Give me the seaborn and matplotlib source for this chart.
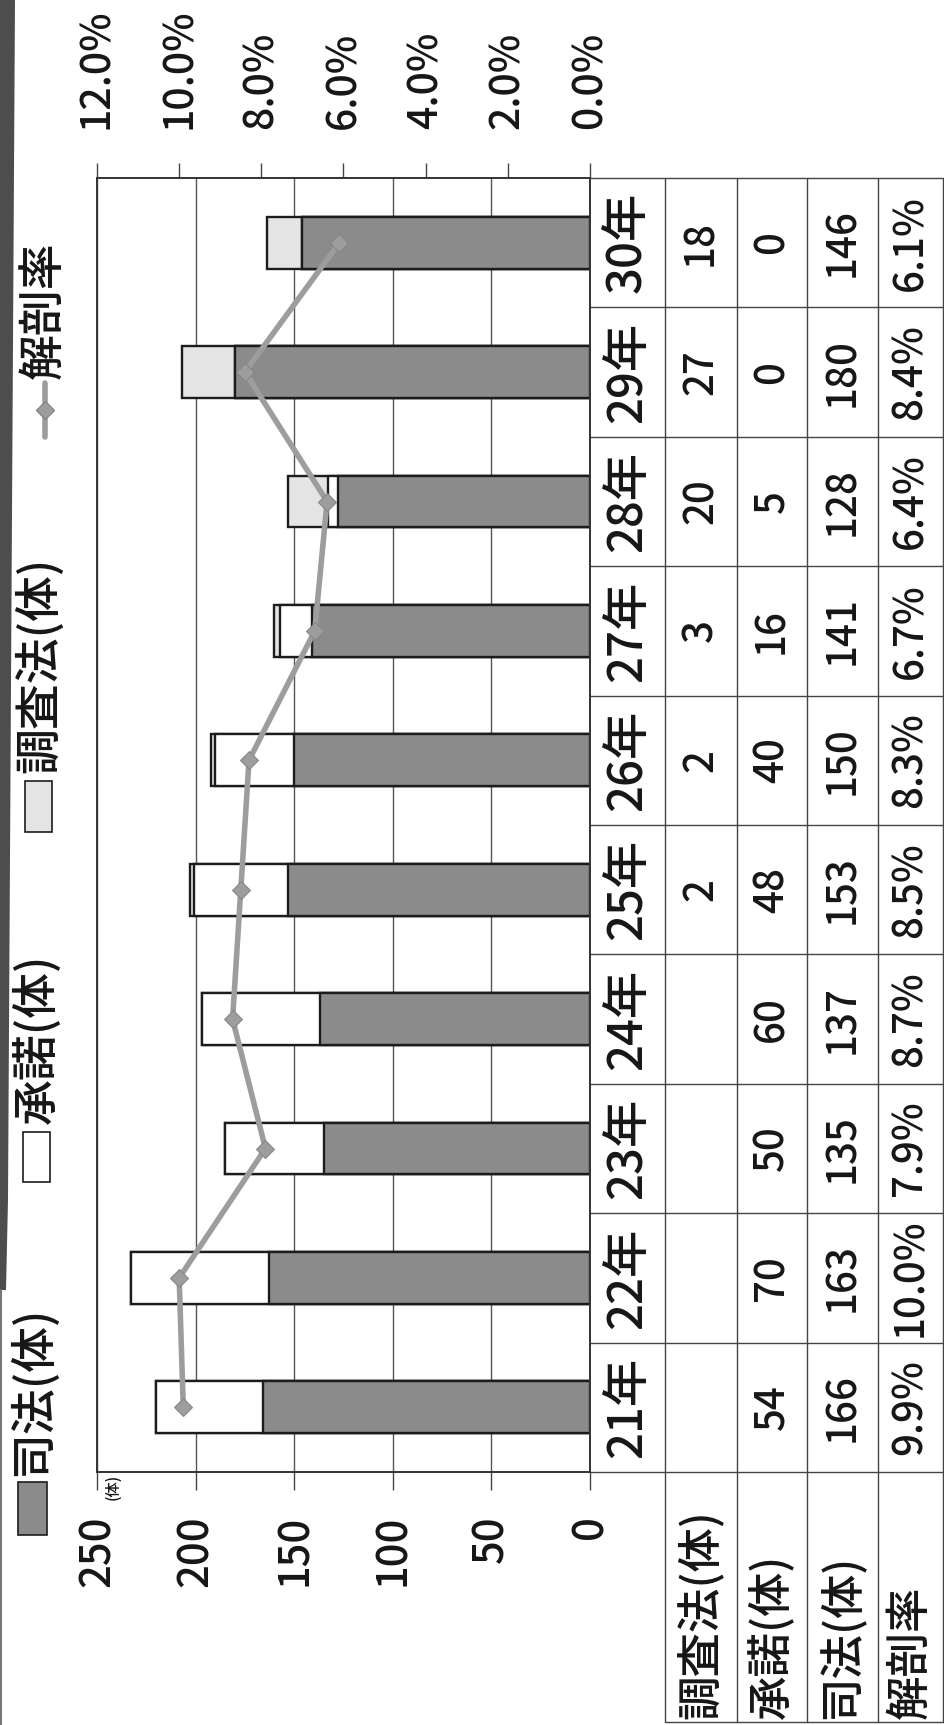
import numpy as np
import pandas as pd
import matplotlib
matplotlib.use("Agg")
import matplotlib.pyplot as plt
import seaborn as sns
from matplotlib import transforms
from matplotlib.patches import Rectangle, Polygon
from matplotlib.ticker import FuncFormatter

# ---- data -------------------------------------------------------------
years = ["21年", "22年", "23年", "24年", "25年", "26年", "27年", "28年", "29年", "30年"]
chosa = [np.nan, np.nan, np.nan, np.nan, 2, 2, 3, 20, 27, 18]      # 調査法(体)
shodaku = [54, 70, 50, 60, 48, 40, 16, 5, 0, 0]                    # 承諾(体)
shiho = [166, 163, 135, 137, 153, 150, 141, 128, 180, 146]          # 司法(体)
rate = [9.9, 10.0, 7.9, 8.7, 8.5, 8.3, 6.7, 6.4, 8.4, 6.1]          # 解剖率(%)

row_labels = ["調査法(体)", "承諾(体)", "司法(体)", "解剖率"]
legend_labels = ["司法(体)", "承諾(体)", "調査法(体)", "解剖率"]
count_ticks = [0, 50, 100, 150, 200, 250]
rate_ticks = [0, 2, 4, 6, 8, 10, 12]

# ---- style ------------------------------------------------------------
sns.set_style("white")
plt.rcParams["font.family"] = ["Noto Sans CJK JP", "DejaVu Sans"]
plt.rcParams["font.weight"] = "medium"

GRAY = "#8b8b8b"
LIGHT = "#e4e4e4"
LINE = "#9d9d9d"
EDGE = "#1c1c1c"
GRID = "#555555"
TXT = "#161616"

W, H = 945, 1725
fig = plt.figure(figsize=(W / 100, H / 100), dpi=100)
fig.patch.set_facecolor("white")

# full-figure layer in pixel units (legend, table, page edge)
lay = fig.add_axes([0, 0, 1, 1])
lay.set_xlim(0, W)
lay.set_ylim(H, 0)
lay.axis("off")

# dark page edge along the left side
lay.add_patch(Polygon([(0, 0), (15, 0), (8, 1200), (6, 1290), (0, 1290)],
                      closed=True, facecolor="#4d4d4d", edgecolor="none"))
lay.plot([1, 1], [1290, H], color="#777777", lw=1.5)

# ---- main plot (chart turned on its side) -----------------------------
PL, PR, PT, PB = 97, 590, 178, 1472
ax = fig.add_axes([PL / W, (H - PB) / H, (PR - PL) / W, (PB - PT) / H])

df = pd.DataFrame({
    "pos": np.arange(len(years)),
    "shiho": shiho,
    "shodaku": shodaku,
    "chosa": chosa,
    "rate": rate,
})
df["upper"] = df["shiho"] + df["shodaku"]
df["total"] = df["upper"] + df["chosa"].fillna(0)

for col, fc in [("total", LIGHT), ("upper", "white"), ("shiho", GRAY)]:
    sns.barplot(data=df, x=col, y="pos", orient="y", native_scale=True,
                width=0.4, color=fc, saturation=1, edgecolor=EDGE,
                linewidth=1.7, errorbar=None, ax=ax)

ax.set_xlim(250, 0)
ax.set_ylim(-0.5, 9.5)
ax.set_xticks(count_ticks)
ax.set_xlabel("")
ax.set_ylabel("")
ax.set_axisbelow(True)
ax.grid(axis="x", color=GRID, lw=1.0)
ax.grid(axis="y", visible=False)
for s in ax.spines.values():
    s.set_visible(True)
    s.set_color("#333333")
    s.set_linewidth(1.2)
ax.tick_params(axis="x", direction="out", length=13, width=1, color="#444444",
               pad=18, labelsize=30, labelrotation=90, labelcolor=TXT, bottom=True)
ax.tick_params(axis="y", left=False, labelleft=False)

# rate line on its own scale
ax2 = ax.twiny()
sns.lineplot(data=df, x="rate", y="pos", sort=False, estimator=None,
             color=LINE, linewidth=4.0, marker="D", markersize=9.5,
             markerfacecolor=LINE, markeredgecolor="#868686", ax=ax2)
ax2.set_xlim(12, 0)
ax2.set_ylim(-0.5, 9.5)
ax2.set_xticks(rate_ticks)
ax2.xaxis.set_major_formatter(FuncFormatter(lambda v, p: f"{v:.1f}%"))
ax2.set_xlabel("")
ax2.set_ylabel("")
ax2.grid(False)
for s in ax2.spines.values():
    s.set_color("#333333")
    s.set_linewidth(1.2)
ax2.tick_params(axis="x", direction="out", length=11, width=1, color="#444444",
                pad=24, labelsize=29.5, labelrotation=90, labelcolor=TXT, top=True)

# unit mark
lay.text(113, 1487, "(体)", rotation=90, fontsize=11, ha="center", va="center", color=TXT)

# ---- data table -------------------------------------------------------
bt = transforms.blended_transform_factory(lay.transData, ax.transData)
col_edges = [590, 665, 737, 807, 878, 943]
col_mid = [(a + b) / 2 for a, b in zip(col_edges[:-1], col_edges[1:])]
TAB_B = 1722
TC = "#444444"

for k in range(len(years) + 1):
    lay.plot([col_edges[0], col_edges[-1]], [k - 0.5, k - 0.5], transform=bt,
             color=TC, lw=1.0)
for x in col_edges[1:]:
    lay.plot([x, x], [PT, TAB_B], color=TC, lw=1.0)
lay.plot([col_edges[1], col_edges[-1]], [TAB_B, TAB_B], color=TC, lw=1.0)

for i, yr in enumerate(years):
    lay.text(col_mid[0], i, yr, transform=bt, rotation=90, ha="center",
             va="center", fontsize=34, color=TXT)

series = [chosa, shodaku, shiho, rate]
for j, vals in enumerate(series):
    for i, v in enumerate(vals):
        if v is None or (isinstance(v, float) and np.isnan(v)):
            continue
        s = f"{v:.1f}%" if j == 3 else f"{int(v)}"
        lay.text(col_mid[j + 1], i, s, transform=bt, rotation=90, ha="center",
                 va="center", fontsize=29, color=TXT)

for j, lab in enumerate(row_labels):
    lay.text(col_mid[j + 1], TAB_B - 3, lab, rotation=90, ha="center",
             va="bottom", fontsize=32, color=TXT)

# ---- legend -----------------------------------------------------------
# 司法
lay.add_patch(Rectangle((18, 1482), 29, 53, facecolor=GRAY, edgecolor=EDGE, lw=1.2))
lay.text(33, 1476, legend_labels[0], rotation=90, ha="center", va="bottom",
         fontsize=33, color=TXT)
# 承諾
lay.add_patch(Rectangle((23, 1132), 27, 50, facecolor="white", edgecolor=EDGE, lw=1.2))
lay.text(37, 1124, legend_labels[1], rotation=90, ha="center", va="bottom",
         fontsize=33, color=TXT)
# 調査法
lay.add_patch(Rectangle((25, 781), 27, 51, facecolor=LIGHT, edgecolor=EDGE, lw=1.2))
lay.text(39, 773, legend_labels[2], rotation=90, ha="center", va="bottom",
         fontsize=33, color=TXT)
# 解剖率
lay.plot([45, 45], [383, 437], color=LINE, lw=4.0)
lay.plot([45], [410], marker="D", markersize=9.5, color=LINE, markeredgecolor="#868686")
lay.text(43, 379, legend_labels[3], rotation=90, ha="center", va="bottom",
         fontsize=33, color=TXT)

fig.savefig("out.png", dpi=100, facecolor="white")
